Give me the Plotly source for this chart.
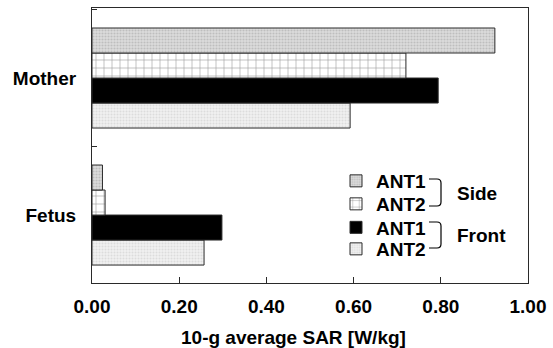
import plotly.graph_objects as go

categories = ["Fetus", "Mother"]
side_ant1 = [0.024, 0.924]
side_ant2 = [0.030, 0.720]
front_ant1 = [0.298, 0.794]
front_ant2 = [0.257, 0.592]
x_ticks = [0.0, 0.2, 0.4, 0.6, 0.8, 1.0]

W, H = 553, 348
L, R, T, B = 92, 528, 8, 283


def px(X):
    return (X - L) / (R - L)


def py(Y):
    return (B - Y) / (B - T)


line = dict(color="#2a2a2a", width=1)
fig = go.Figure()
# bottom to top within each group
fig.add_trace(go.Bar(name="ANT2", y=categories, x=front_ant2, orientation="h", legend="legend4",
                     marker=dict(color="#ececec", line=line,
                                 pattern=dict(shape=".", fgcolor="#c8c8c8", bgcolor="#f0f0f0",
                                              size=3, solidity=0.35))))
fig.add_trace(go.Bar(name="ANT1", y=categories, x=front_ant1, orientation="h", legend="legend3",
                     marker=dict(color="#000000", line=line)))
fig.add_trace(go.Bar(name="ANT2", y=categories, x=side_ant2, orientation="h", legend="legend2",
                     marker=dict(color="white", line=line,
                                 pattern=dict(shape="+", fgcolor="#111111", bgcolor="white",
                                              size=8, solidity=0.12))))
fig.add_trace(go.Bar(name="ANT1", y=categories, x=side_ant1, orientation="h", legend="legend",
                     marker=dict(color="#d8d8d8", line=line,
                                 pattern=dict(shape=".", fgcolor="#a0a0a0", bgcolor="#dcdcdc",
                                              size=3, solidity=0.4))))


def bracket(x0, x1, y0, y1):
    r = 4
    return dict(type="path", xref="paper", yref="paper",
                path=(f"M{px(x0)},{py(y0)} L{px(x1 - r)},{py(y0)} "
                      f"Q{px(x1)},{py(y0)} {px(x1)},{py(y0 + r)} "
                      f"L{px(x1)},{py(y1 - r)} "
                      f"Q{px(x1)},{py(y1)} {px(x1 - r)},{py(y1)} "
                      f"L{px(x0)},{py(y1)}"),
                line=dict(color="black", width=1.2))


def leg(yc):
    return dict(x=px(336), y=py(yc), xanchor="left", yanchor="middle",
                bgcolor="rgba(0,0,0,0)", borderwidth=0, font=dict(size=19))


fig.update_layout(
    width=W, height=H,
    margin=dict(l=L, r=W - R, t=T, b=H - B, pad=0),
    paper_bgcolor="white", plot_bgcolor="white",
    font=dict(family="Liberation Sans, Arial, sans-serif", size=19, color="black", weight="bold"),
    barmode="group", bargap=0.27, bargroupgap=0,
    showlegend=True,
    legend=leg(181), legend2=leg(204), legend3=leg(227.5), legend4=leg(249),
    xaxis=dict(range=[0, 1], tickvals=x_ticks, tickformat=".2f",
               ticks="inside", ticklen=6, tickcolor="#2a2a2a",
               showline=True, linecolor="#2a2a2a", linewidth=1, mirror=True,
               showgrid=False, zeroline=False, ticklabelstandoff=6),
    yaxis=dict(type="category", categoryorder="array", categoryarray=categories,
               range=[-0.496, 1.511], tickson="boundaries",
               ticks="inside", ticklen=5, tickcolor="#2a2a2a",
               showline=True, linecolor="#2a2a2a", linewidth=1, mirror=True,
               showgrid=False, zeroline=False, ticklabelstandoff=11),
    shapes=[bracket(429, 441, 179, 206), bracket(429, 441, 222, 248)],
    annotations=[
        dict(text="10-g average SAR [W/kg]", xref="paper", yref="paper",
             x=px(293), y=py(337), xanchor="center", yanchor="middle", showarrow=False),
        dict(text="Side", xref="paper", yref="paper",
             x=px(455), y=py(193), xanchor="left", yanchor="middle", showarrow=False),
        dict(text="Front", xref="paper", yref="paper",
             x=px(455), y=py(235), xanchor="left", yanchor="middle", showarrow=False),
    ],
)

fig.write_html("out.html", post_script="document.body.style.margin='0';",
               config={"displayModeBar": False})
